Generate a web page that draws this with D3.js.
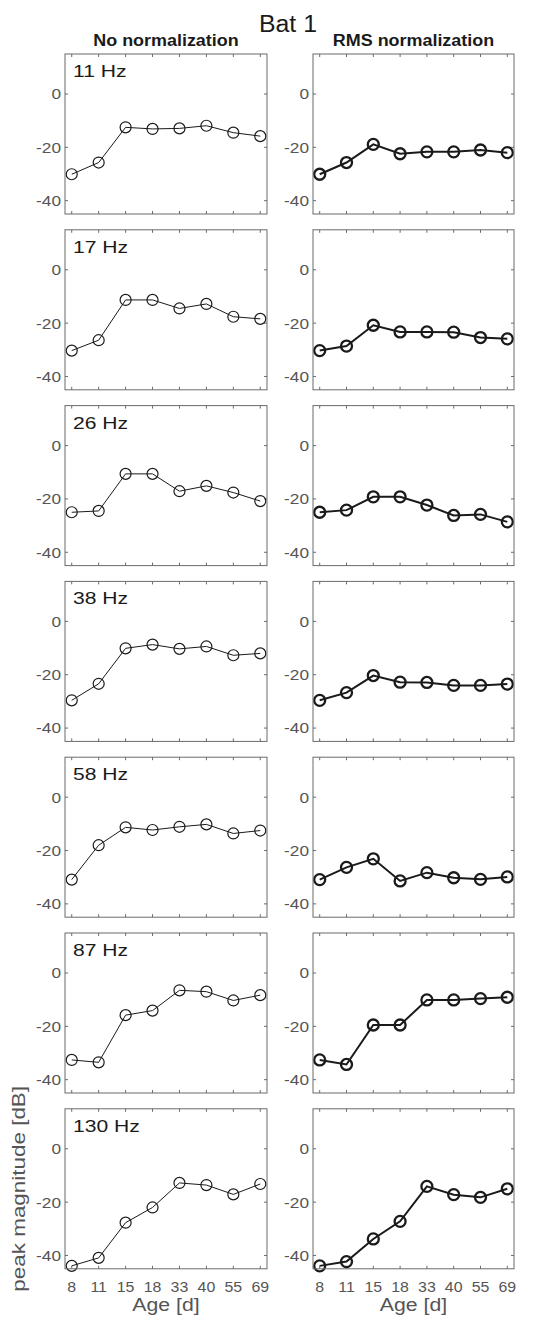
<!DOCTYPE html>
<html>
<head>
<meta charset="utf-8">
<script src="https://cdn.jsdelivr.net/npm/d3@7"></script>
<style>
    body { margin: 0; background: #fff; }
    text { font-family: "Liberation Sans", Arial, sans-serif; }
</style>
</head>
<body>
<div id="fig"></div>
<script>
// values (dB)
const ages = ["8", "11", "15", "18", "33", "40", "55", "69"];
const freqs = ["11 Hz", "17 Hz", "26 Hz", "38 Hz", "58 Hz", "87 Hz", "130 Hz"];
const yTicks = [0, -20, -40];

const noNorm = [
    [-30.1, -25.7, -12.5, -13.1, -12.9, -11.9, -14.5, -15.8],
    [-30.3, -26.4, -11.3, -11.3, -14.5, -12.8, -17.6, -18.4],
    [-25.0, -24.5, -10.6, -10.6, -17.1, -15.1, -17.6, -20.8],
    [-29.6, -23.4, -10.1, -8.7, -10.3, -9.4, -12.7, -12.0],
    [-30.9, -18.0, -11.3, -12.3, -11.1, -10.2, -13.6, -12.5],
    [-32.6, -33.5, -15.8, -14.1, -6.5, -7.0, -10.3, -8.3],
    [-43.9, -40.9, -27.7, -22.0, -12.8, -13.6, -17.1, -13.2]
];

const rmsNorm = [
    [-30.1, -25.7, -18.9, -22.4, -21.7, -21.7, -21.0, -22.0],
    [-30.3, -28.6, -20.8, -23.3, -23.3, -23.4, -25.4, -25.9],
    [-25.0, -24.2, -19.2, -19.2, -22.3, -26.2, -25.8, -28.6],
    [-29.6, -26.7, -20.3, -22.8, -22.9, -24.0, -24.0, -23.5],
    [-30.9, -26.3, -23.1, -31.4, -28.3, -30.2, -30.8, -29.9],
    [-32.6, -34.3, -19.5, -19.5, -10.1, -10.1, -9.6, -9.1],
    [-43.9, -42.3, -33.8, -27.2, -14.1, -17.2, -18.2, -15.0]
];

const W = 541, H = 1327;
const cols = [
    { x: 65, w: 202, title: "No normalization", data: noNorm, line: 1, ring: 1.2 },
    { x: 313, w: 201, title: "RMS normalization", data: rmsNorm, line: 2, ring: 2.3 }
];
const rowTop = 54, rowStep = 175.8, panelH = 160;
const axisGray = "#6b6b6b", textGray = "#555", ink = "#1a1a1a";

// the reference font runs wider than Liberation Sans, stretch glyphs a little
function widen(k) {
    return function (sel) {
        sel.each(function () {
            const len = this.getComputedTextLength();
            d3.select(this)
                .attr("textLength", len * k)
                .attr("lengthAdjust", "spacingAndGlyphs");
        });
    };
}

const svg = d3.select("#fig")
    .append("svg")
    .attr("width", W)
    .attr("height", H);

svg.append("text")
    .attr("x", 288)
    .attr("y", 32)
    .attr("text-anchor", "middle")
    .style("font-size", "23px")
    .attr("fill", ink)
    .text("Bat 1")
    .call(widen(1.08));

cols.forEach((col, ci) => {
    svg.append("text")
        .attr("x", col.x + col.w / 2)
        .attr("y", 46)
        .attr("text-anchor", "middle")
        .style("font-size", "16px")
        .style("font-weight", "bold")
        .attr("fill", ink)
        .text(col.title)
        .call(widen(1.12));

    // indices 1..8 over [0.75, 8.25], like the reference's x limits
    const xi = d3.scaleLinear().domain([0.75, 8.25]).range([0, col.w]);
    const y = d3.scaleLinear().domain([-45, 15]).range([panelH, 0]);

    col.data.forEach((vals, ri) => {
        const g = svg.append("g")
            .attr("transform", "translate(" + col.x + "," + (rowTop + ri * rowStep) + ")");

        // ticks on all four sides, pointing inward
        const ticksX = ages.map((_, i) => xi(i + 1));
        g.selectAll(".tb")
            .data(ticksX)
            .enter()
            .append("line")
            .attr("x1", d => d).attr("x2", d => d)
            .attr("y1", panelH).attr("y2", panelH - 3)
            .attr("stroke", axisGray);
        g.selectAll(".tt")
            .data(ticksX)
            .enter()
            .append("line")
            .attr("x1", d => d).attr("x2", d => d)
            .attr("y1", 0).attr("y2", 3)
            .attr("stroke", axisGray);
        g.selectAll(".tl")
            .data(yTicks)
            .enter()
            .append("line")
            .attr("x1", 0).attr("x2", 3)
            .attr("y1", d => y(d)).attr("y2", d => y(d))
            .attr("stroke", axisGray);
        g.selectAll(".tr")
            .data(yTicks)
            .enter()
            .append("line")
            .attr("x1", col.w).attr("x2", col.w - 3)
            .attr("y1", d => y(d)).attr("y2", d => y(d))
            .attr("stroke", axisGray);

        g.selectAll(".ylab")
            .data(yTicks)
            .enter()
            .append("text")
            .attr("x", -4)
            .attr("y", d => y(d))
            .attr("dy", "0.36em")
            .attr("text-anchor", "end")
            .style("font-size", "15px")
            .attr("fill", textGray)
            .text(d => d)
            .call(widen(1.15));

        if (ri === col.data.length - 1) {
            g.selectAll(".xlab")
                .data(ages)
                .enter()
                .append("text")
                .attr("x", (d, i) => xi(i + 1))
                .attr("y", panelH + 23)
                .attr("text-anchor", "middle")
                .style("font-size", "15px")
                .attr("fill", textGray)
                .text(d => d)
                .call(widen(1.06));
            g.append("text")
                .attr("x", col.w / 2)
                .attr("y", panelH + 42)
                .attr("text-anchor", "middle")
                .style("font-size", "18px")
                .attr("fill", textGray)
                .text("Age [d]")
                .call(widen(1.18));
            if (ci === 0) {
                g.append("text")
                    .attr("transform", "translate(" + (25 - col.x) + "," + (panelH / 2) + ") rotate(-90)")
                    .attr("text-anchor", "middle")
                    .style("font-size", "19px")
                    .attr("fill", textGray)
                    .text("peak magnitude [dB]")
                    .call(widen(1.18));
            }
        }

        if (ci === 0) {
            g.append("text")
                .attr("x", 8)
                .attr("y", 23)
                .style("font-size", "17px")
                .attr("fill", ink)
                .text(freqs[ri])
                .call(widen(1.24));
        }

        const pts = vals.map((v, i) => ({ i: i + 1, v }));

        g.append("path")
            .datum(pts)
            .attr("fill", "none")
            .attr("stroke", ink)
            .attr("stroke-width", col.line)
            .attr("d", d3.line()
                .x(d => xi(d.i))
                .y(d => y(d.v)));

        g.selectAll(".pt")
            .data(pts)
            .enter()
            .append("circle")
            .attr("cx", d => xi(d.i))
            .attr("cy", d => y(d.v))
            .attr("r", 5.5)
            .attr("fill", "none")
            .attr("stroke", ink)
            .attr("stroke-width", col.ring);

        // box drawn last so it sits over the markers
        g.append("rect")
            .attr("x", 0)
            .attr("y", 0)
            .attr("width", col.w)
            .attr("height", panelH)
            .attr("fill", "none")
            .attr("stroke", axisGray)
            .attr("stroke-width", 1);
    });
});
</script>
</body>
</html>
